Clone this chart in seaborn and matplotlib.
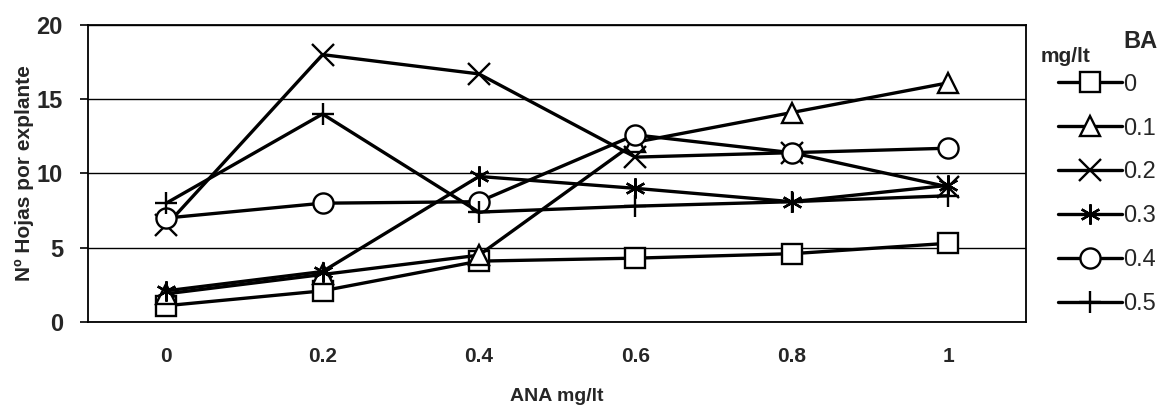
import matplotlib
matplotlib.use("Agg")
import matplotlib.pyplot as plt
import seaborn as sns
import pandas as pd

ana_labels = ["0", "0.2", "0.4", "0.6", "0.8", "1"]
ba_levels = ["0", "0.1", "0.2", "0.3", "0.4", "0.5"]
ba_0 = [1.1, 2.1, 4.1, 4.3, 4.6, 5.3]
ba_01 = [1.9, 3.2, 4.5, 12.1, 14.1, 16.1]
ba_02 = [6.5, 18.0, 16.7, 11.1, 11.4, 9.1]
ba_03 = [2.1, 3.4, 9.8, 9.0, 8.1, 9.2]
ba_04 = [7.0, 8.0, 8.1, 12.6, 11.4, 11.7]
ba_05 = [8.0, 14.0, 7.4, 7.8, 8.1, 8.5]
series = [ba_0, ba_01, ba_02, ba_03, ba_04, ba_05]

markers = ["s", "^", "x", (6, 2, 0), "o", "+"]

sns.set_style("white")
plt.rcParams["font.family"] = ["Liberation Sans", "DejaVu Sans"]

fig = plt.figure(figsize=(11.67, 4.15), dpi=100)
ax = fig.add_axes([0.0754, 0.224, 0.804, 0.716])

xpos = list(range(len(ana_labels)))
for lvl, vals, m in zip(ba_levels, series, markers):
    df = pd.DataFrame({"x": xpos, "y": vals})
    sns.lineplot(data=df, x="x", y="y", ax=ax, color="black", linewidth=2.4,
                 marker=m, markersize=14.5 if m not in ("x", "+") else 16,
                 markerfacecolor="white", markeredgecolor="black",
                 markeredgewidth=1.7, label=lvl, zorder=3)

ax.set_xlim(-0.5, 5.5)
ax.set_ylim(0, 20)
ax.set_yticks([0, 5, 10, 15, 20])
ax.set_yticklabels(["0", "5", "10", "15", "20"], fontsize=17, fontweight="bold")
ax.set_xticks(xpos)
ax.set_xticklabels(ana_labels, fontsize=15, fontweight="bold")
ax.set_xticks([0.5, 1.5, 2.5, 3.5, 4.5], minor=True)
ax.tick_params(axis="x", which="major", length=0, pad=18)
ax.tick_params(axis="x", which="minor", length=6, width=1.2, direction="out", color="black")
ax.tick_params(axis="y", which="major", length=6, width=1.2, direction="out",
               color="black", pad=12, left=True)
ax.grid(axis="y", color="black", linewidth=1.0)
ax.set_axisbelow(True)
for s in ax.spines.values():
    s.set_color("black")
    s.set_linewidth(1.3)

ax.set_xlabel("ANA mg/lt", fontsize=14, fontweight="bold", labelpad=16)
ax.set_ylabel("Nº Hojas por explante", fontsize=15, fontweight="bold", labelpad=2)

handles, labels = ax.get_legend_handles_labels()
leg = ax.legend(handles, labels, loc="upper left", bbox_to_anchor=(1.024, 0.868),
                frameon=False, fontsize=17, handlelength=2.7, handletextpad=0.05,
                labelspacing=0.93, borderaxespad=0)
fig.text(0.892, 0.85, "mg/lt", fontsize=15, fontweight="bold")
fig.text(0.963, 0.885, "BA", fontsize=17, fontweight="bold")

fig.savefig("out.png", dpi=100)
